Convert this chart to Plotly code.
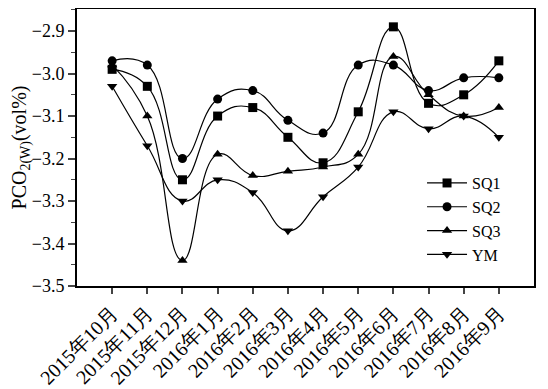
import plotly.graph_objects as go

months = ["2015年10月", "2015年11月", "2015年12月", "2016年1月", "2016年2月", "2016年3月",
          "2016年4月", "2016年5月", "2016年6月", "2016年7月", "2016年8月", "2016年9月"]
sq1 = [-2.99, -3.03, -3.25, -3.10, -3.08, -3.15, -3.21, -3.09, -2.89, -3.07, -3.05, -2.97]
sq2 = [-2.97, -2.98, -3.20, -3.06, -3.04, -3.11, -3.14, -2.98, -2.98, -3.04, -3.01, -3.01]
sq3 = [-2.98, -3.10, -3.44, -3.19, -3.24, -3.23, -3.22, -3.19, -2.96, -3.05, -3.10, -3.08]
ym = [-3.03, -3.17, -3.30, -3.25, -3.28, -3.37, -3.29, -3.22, -3.09, -3.13, -3.10, -3.15]
yticks = [-2.9, -3.0, -3.1, -3.2, -3.3, -3.4, -3.5]
y_title = "PCO<sub>2(W)</sub>(vol%)"

series = [("SQ1", sq1, "square"), ("SQ2", sq2, "circle"),
          ("SQ3", sq3, "triangle-up"), ("YM", ym, "triangle-down")]

fig = go.Figure()
for name, vals, sym in series:
    fig.add_trace(go.Scatter(
        x=list(range(len(months))), y=vals, name=name, mode="lines+markers",
        line=dict(color="black", width=1.2, shape="spline", smoothing=1.3),
        marker=dict(symbol=sym, size=9, color="black"),
    ))

font = "Liberation Serif"
# page body has an 8px default margin, so the figure is 8px smaller and offset
fig.update_layout(
    width=540, height=381,
    margin=dict(l=69, r=14, t=1, b=103, autoexpand=False),
    paper_bgcolor="white", plot_bgcolor="white",
    font=dict(family=font, color="black", size=17),
    showlegend=True,
    legend=dict(x=0.755, y=0.433, xanchor="left", yanchor="top",
                bgcolor="rgba(0,0,0,0)", font=dict(size=16, family=font),
                tracegroupgap=0, itemwidth=40),
    xaxis=dict(
        tickmode="array", tickvals=list(range(len(months))), ticktext=months,
        range=[-1, 12], tickangle=-45, ticks="outside", ticklen=6, tickwidth=1.5,
        showline=True, linecolor="black", linewidth=2, mirror=True, automargin=False,
        showgrid=False, zeroline=False, tickfont=dict(size=20, family=font),
    ),
    yaxis=dict(
        tickmode="array", tickvals=yticks, tickformat=".1f",
        range=[-3.5, -2.848], ticks="outside", ticklen=7, tickwidth=1.5,
        minor=dict(ticks="outside", ticklen=4, tickwidth=1.2, dtick=0.05, tick0=-3.5),
        showline=True, linecolor="black", linewidth=2, mirror=True, automargin=False,
        showgrid=False, zeroline=False, tickfont=dict(size=18, family=font),
        title=dict(text=y_title, font=dict(size=20, family=font)),
    ),
)
fig.write_html("out.html")
